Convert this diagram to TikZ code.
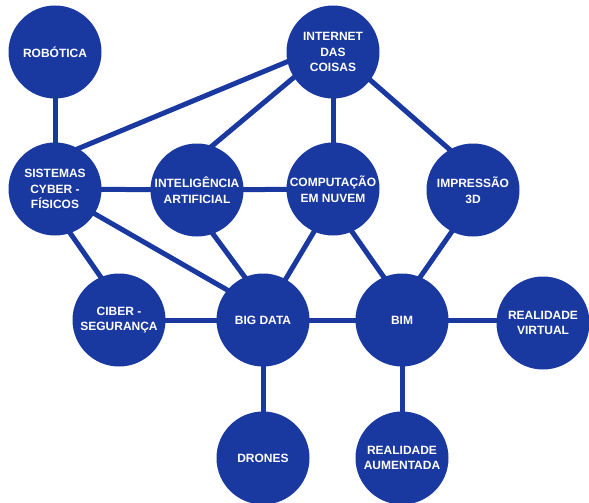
\documentclass[tikz,border=0pt]{standalone}
\usepackage{fontspec}
\setmainfont{Liberation Sans}
\usetikzlibrary{backgrounds}
\definecolor{nodeblue}{RGB}{25,56,160}
\tikzset{
  topic/.style={circle, fill=nodeblue, minimum size=93pt, inner sep=0pt,
    text=white, align=center, font=\bfseries\fontsize{12}{15.5}\selectfont},
  link/.style={draw=nodeblue, line width=5pt, shorten <=-3pt, shorten >=-3pt}
}
\begin{document}
\begin{tikzpicture}[x=1pt,y=-1pt]
\useasboundingbox (0,0) rectangle (589,503);
\node[topic] (rob) at (55,52) {ROBÓTICA};
\node[topic] (iot) at (333,52) {INTERNET\\DAS\\COISAS};
\node[topic] (sis) at (55,189) {SISTEMAS\\CYBER -\\FÍSICOS};
\node[topic] (ia)  at (197,190) {INTELIGÊNCIA\\ARTIFICIAL};
\node[topic] (cn)  at (333,189) {COMPUTAÇÃO\\EM NUVEM};
\node[topic] (imp) at (473,190) {IMPRESSÃO\\3D};
\node[topic] (cib) at (119,320) {CIBER -\\SEGURANÇA};
\node[topic] (bd)  at (263,320) {BIG DATA};
\node[topic] (bim) at (402,320) {BIM};
\node[topic] (rv)  at (543,323) {REALIDADE\\VIRTUAL};
\node[topic] (dr)  at (263,458) {DRONES};
\node[topic] (ra)  at (402,458) {REALIDADE\\AUMENTADA};
\begin{pgfonlayer}{background}
\draw[link] (rob) -- (sis);
\draw[link] (sis.60) -- (iot.192);
\draw[link] (ia.71) -- (iot.213);
\draw[link] (iot) -- (cn);
\draw[link] (iot.-37) -- (imp.120);
\draw[link] (sis) -- (ia);
\draw[link] (ia) -- (cn);
\draw[link] (sis.-71) -- (cib.113);
\draw[link] (sis.-32) -- (bd.140);
\draw[link] (ia.-70) -- (bd.113);
\draw[link] (cn.-114) -- (bd.61);
\draw[link] (cn.-66) -- (bim.113);
\draw[link] (imp.-117) -- (bim.67);
\draw[link] (cib) -- (bd);
\draw[link] (bd) -- (bim);
\draw[link] (bim.east) -- (rv.west |- bim.east);
\draw[link] (bd) -- (dr);
\draw[link] (bim) -- (ra);
\end{pgfonlayer}
\end{tikzpicture}
\end{document}
